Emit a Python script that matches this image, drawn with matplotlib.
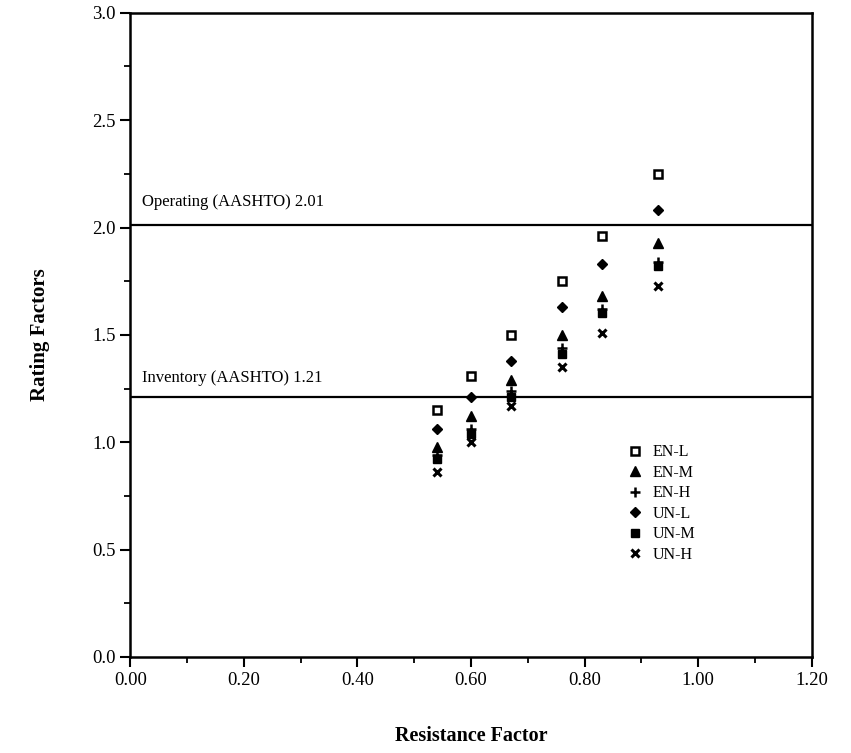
import matplotlib
matplotlib.use("Agg")
import matplotlib.pyplot as plt
from matplotlib.ticker import MultipleLocator, FormatStrFormatter

# Resistance factors (x) and rating factors for each case
resistance = [0.54, 0.60, 0.67, 0.76, 0.83, 0.93]
en_l = [1.15, 1.31, 1.50, 1.75, 1.96, 2.25]
en_m = [0.98, 1.12, 1.29, 1.50, 1.68, 1.93]
en_h = [0.94, 1.06, 1.24, 1.44, 1.62, 1.84]
un_l = [1.06, 1.21, 1.38, 1.63, 1.83, 2.08]
un_m = [0.92, 1.04, 1.21, 1.41, 1.60, 1.82]
un_h = [0.86, 1.00, 1.17, 1.35, 1.51, 1.73]

operating = 2.01
inventory = 1.21

plt.rcParams["font.family"] = ["Liberation Serif", "DejaVu Serif"]

fig = plt.figure(figsize=(8.51, 7.53), dpi=100)
ax = fig.add_axes([0.153, 0.1275, 0.801, 0.8555])

ax.axhline(operating, color="black", lw=1.6, zorder=1)
ax.axhline(inventory, color="black", lw=1.6, zorder=1)
ax.text(0.02, operating + 0.07, "Operating (AASHTO) 2.01", fontsize=12, va="bottom", ha="left")
ax.text(0.02, inventory + 0.05, "Inventory (AASHTO) 1.21", fontsize=12, va="bottom", ha="left")

ms = 6
ax.plot(resistance, en_l, ls="none", marker="s", ms=ms, mfc="white", mec="black", mew=1.8, label="EN-L", zorder=3)
ax.plot(resistance, en_m, ls="none", marker="^", ms=ms + 1, color="black", label="EN-M", zorder=3)
ax.plot(resistance, en_h, ls="none", marker="+", ms=ms + 1, mew=1.8, color="black", label="EN-H", zorder=3)
ax.plot(resistance, un_l, ls="none", marker="D", ms=ms - 0.5, color="black", label="UN-L", zorder=3)
ax.plot(resistance, un_m, ls="none", marker="s", ms=ms, color="black", label="UN-M", zorder=3)
ax.plot(resistance, un_h, ls="none", marker="x", ms=ms, mew=2.2, color="black", label="UN-H", zorder=3)

ax.set_xlim(0, 1.2)
ax.set_ylim(0, 3.0)
ax.xaxis.set_major_locator(MultipleLocator(0.2))
ax.xaxis.set_minor_locator(MultipleLocator(0.1))
ax.yaxis.set_major_locator(MultipleLocator(0.5))
ax.yaxis.set_minor_locator(MultipleLocator(0.25))
ax.xaxis.set_major_formatter(FormatStrFormatter("%.2f"))
ax.yaxis.set_major_formatter(FormatStrFormatter("%.1f"))
ax.tick_params(which="major", direction="out", length=7, width=1.5, labelsize=13.5)
ax.tick_params(which="minor", direction="out", length=4, width=1.3)
for side in ax.spines.values():
    side.set_linewidth(1.8)

ax.set_xlabel("Resistance Factor", fontsize=14.5, fontweight="bold", labelpad=27)
ax.set_ylabel("Rating Factors", fontsize=15, fontweight="bold", labelpad=30)

ax.legend(loc="upper left", bbox_to_anchor=(0.72, 0.34), frameon=False,
          fontsize=11.5, handlelength=1.0, handletextpad=0.6, labelspacing=0.28,
          borderaxespad=0)

fig.savefig("out.png", dpi=100)
